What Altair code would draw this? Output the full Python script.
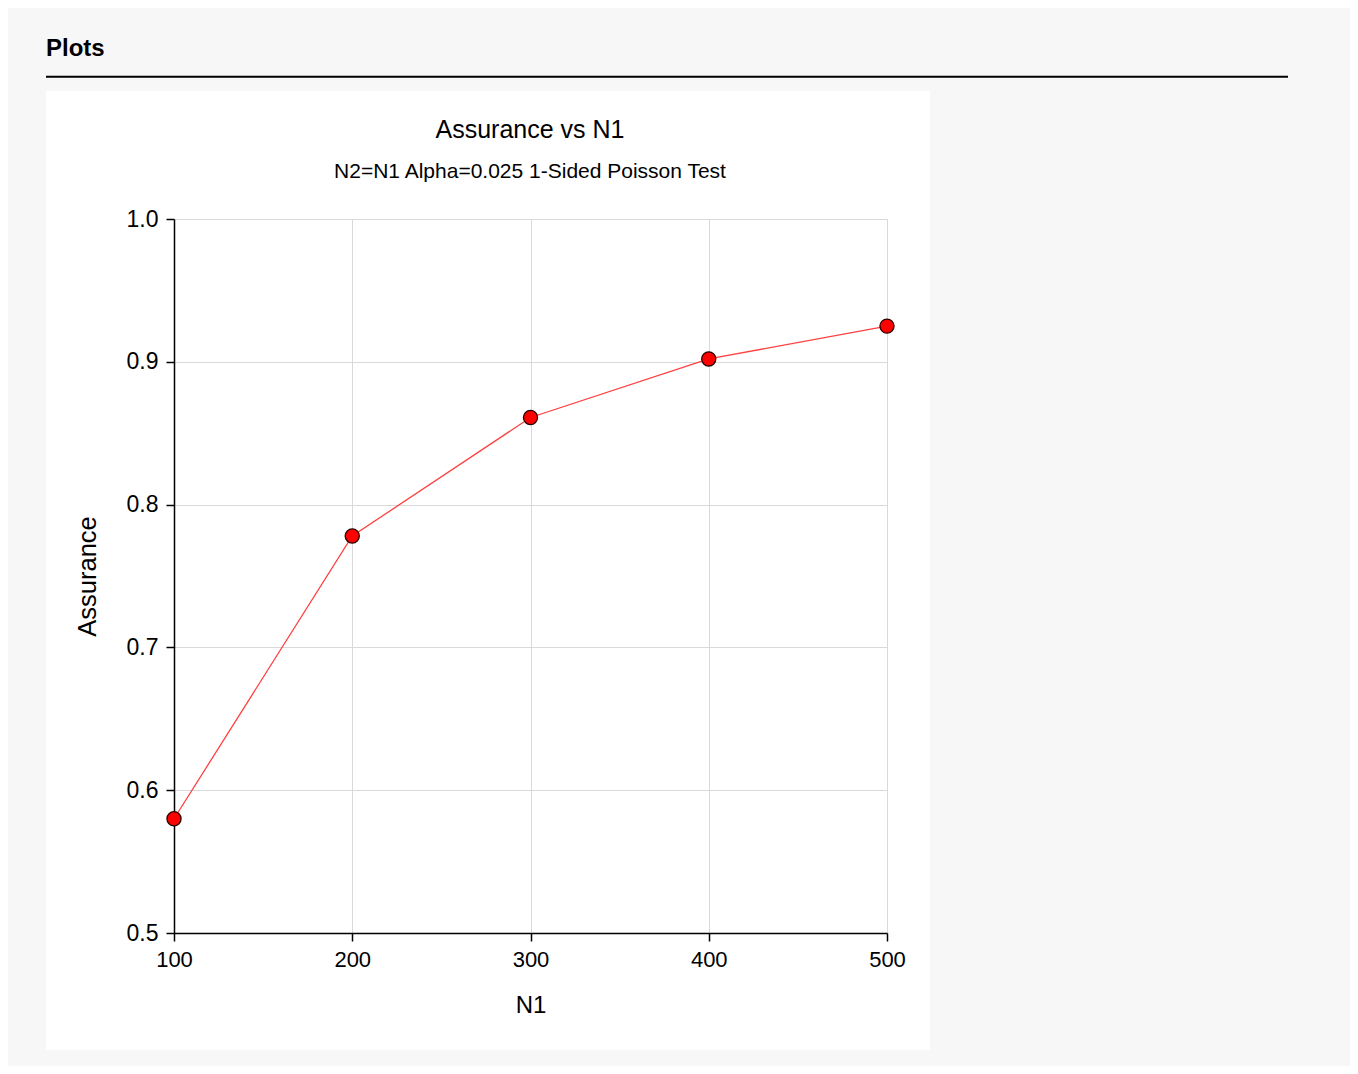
import altair as alt
import pandas as pd

n1 = [100, 200, 300, 400, 500]
assurance = [0.580, 0.778, 0.861, 0.902, 0.925]
y_ticks = [0.5, 0.6, 0.7, 0.8, 0.9, 1.0]

title_text = "Assurance vs N1"
subtitle_text = "N2=N1 Alpha=0.025 1-Sided Poisson Test"
header_text = "Plots"

df = pd.DataFrame({"N1": n1, "Assurance": assurance})

FONT = "Liberation Sans"
GRAY = "#f7f7f7"

one = alt.Data(values=[{"k": 0}])

def gray_rect(x, x2, y, y2):
    return alt.Chart(one).mark_rect(color=GRAY).encode(
        x=alt.value(x), x2=alt.value(x2), y=alt.value(y), y2=alt.value(y2)
    )

def label(text, x, y, size, weight="normal", align="center"):
    return alt.Chart(one).mark_text(
        text=text, align=align, baseline="alphabetic", font=FONT,
        fontSize=size, fontWeight=weight, color="#000000"
    ).encode(x=alt.value(x), y=alt.value(y))

x_enc = alt.X(
    "N1:Q",
    scale=alt.Scale(domain=[100, 500], nice=False, zero=False),
    axis=alt.Axis(values=n1, title="N1"),
)
y_enc = alt.Y(
    "Assurance:Q",
    scale=alt.Scale(domain=[0.5, 1.0], nice=False, zero=False),
    axis=alt.Axis(values=y_ticks, format=".1f", title="Assurance",
                  labelFontSize=23, titleFontSize=25.5, titlePadding=26),
)

base = alt.Chart(df)
line = base.mark_line(color="#ff4040", strokeWidth=1.3).encode(x=x_enc, y=y_enc)
pts = base.mark_point(filled=True, shape="circle", size=200, fill="#ff0000",
                      stroke="#2a0000", strokeWidth=1.3, opacity=1).encode(x=x_enc, y=y_enc)

W, H = 713, 714
PL, PT = 166, 211
TOTAL_W, TOTAL_H = 1342, 1058
PR = TOTAL_W - PL - W
PB = TOTAL_H - PT - H

top = gray_rect(-PL, W + PR, -PT, -128)
bottom = gray_rect(-PL, W + PR, 831, H + PB)
left = gray_rect(-PL, -128, -128, 831)
right = gray_rect(756, W + PR, -128, 831)

header = label(header_text, -128, -163, 24, weight="bold", align="left")
hrule = alt.Chart(one).mark_rule(color="#000000", strokeWidth=2).encode(
    x=alt.value(-128), x2=alt.value(1114), y=alt.value(-142.3)
)
title = label(title_text, 356, -80.7, 25)
subtitle = label(subtitle_text, 356, -40.7, 21)

chart = alt.layer(top, bottom, left, right, header, hrule, title, subtitle, line, pts).properties(
    width=W,
    height=H,
    padding={"left": PL, "top": PT, "right": PR, "bottom": PB},
    autosize=alt.AutoSizeParams(type="none"),
    background="white",
).configure_view(stroke=None).configure_axis(
    labelFont=FONT,
    labelFontSize=22,
    labelColor="#000000",
    labelFlush=False,
    labelOverlap=False,
    titleFont=FONT,
    titleFontSize=24,
    titleFontWeight="normal",
    titleColor="#000000",
    domainColor="#000000",
    domainWidth=1.5,
    tickColor="#000000",
    tickWidth=1.5,
    tickSize=8,
    gridColor="#d9d9d9",
    gridWidth=1,
    labelPadding=8,
).configure_axisX(titlePadding=23)

chart.save("out.html", embed_options={"renderer": "svg", "actions": False})
